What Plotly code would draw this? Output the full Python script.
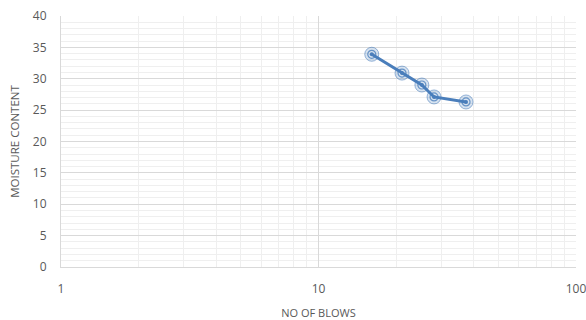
import plotly.graph_objects as go

# Liquid limit test: number of blows vs moisture content
blows = [16.1, 21.1, 25.2, 28.1, 37.4]
moisture = [33.9, 30.9, 29.0, 27.1, 26.3]

x_major = [1, 10, 100]
x_minor = [2, 3, 4, 5, 6, 7, 8, 9, 20, 30, 40, 50, 60, 70, 80, 90]
y_major = [0, 5, 10, 15, 20, 25, 30, 35, 40]

line_col = "#4a7ebb"
font = "Open Sans, Liberation Sans, sans-serif"

fig = go.Figure()
fig.add_trace(go.Scatter(
    x=blows, y=moisture, mode="lines",
    line=dict(color=line_col, width=3), hoverinfo="skip", showlegend=False))
# concentric ring markers
fig.add_trace(go.Scatter(
    x=blows, y=moisture, mode="markers",
    marker=dict(symbol="circle", size=14, color="rgba(74,126,187,0.22)",
                line=dict(color="rgba(74,126,187,0.55)", width=1)),
    showlegend=False))
fig.add_trace(go.Scatter(
    x=blows, y=moisture, mode="markers",
    marker=dict(symbol="circle-open", size=8, color="rgba(74,126,187,0.8)",
                line=dict(color="rgba(74,126,187,0.8)", width=1.2)),
    showlegend=False))
fig.add_trace(go.Scatter(
    x=blows, y=moisture, mode="markers",
    marker=dict(symbol="circle", size=4, color=line_col, line=dict(width=0)),
    showlegend=False))

fig.update_layout(
    width=586, height=320,
    margin=dict(l=61, r=10, t=16, b=53),
    paper_bgcolor="white", plot_bgcolor="white",
    font=dict(family=font, size=12, color="#595959"),
    showlegend=False,
)
fig.update_xaxes(
    type="log", range=[0, 2], automargin=False,
    tickvals=x_major, ticktext=["1", "10", "100"],
    ticks="", ticklabelstandoff=11, ticklabeloverflow="allow",
    showgrid=True, gridcolor="#d9d9d9", gridwidth=1,
    minor=dict(tickvals=x_minor, showgrid=True, gridcolor="#efefef", gridwidth=1),
    showline=True, linecolor="#d9d9d9", linewidth=1,
    zeroline=False,
    title=dict(text="NO OF BLOWS", font=dict(size=11, color="#595959"), standoff=14),
)
fig.update_yaxes(
    range=[0, 40], tickvals=y_major, automargin=False,
    ticks="", ticklabelstandoff=11,
    showgrid=True, gridcolor="#d9d9d9", gridwidth=1,
    minor=dict(dtick=1, showgrid=True, gridcolor="#efefef", gridwidth=1),
    showline=True, linecolor="#d9d9d9", linewidth=1,
    zeroline=False,
    title=dict(text="MOISTURE CONTENT", font=dict(size=11.5, color="#595959"), standoff=10),
)

fig.write_html("out.html")
